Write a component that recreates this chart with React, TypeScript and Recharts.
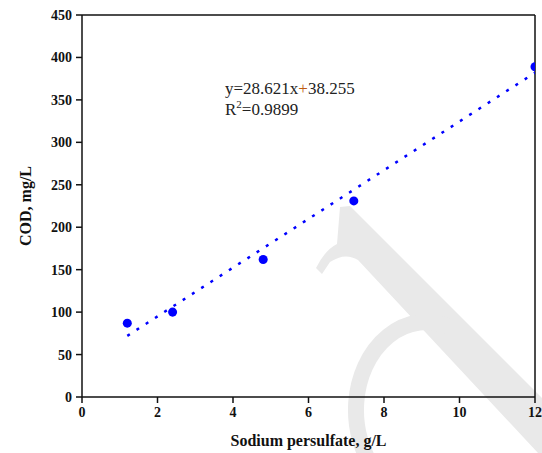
import {
  ComposedChart,
  Line,
  ReferenceLine,
  Scatter,
  XAxis,
  YAxis,
} from 'recharts';

const persulfate = [1.2, 2.4, 4.8, 7.2, 12];
const cod = [87, 100, 162, 231, 389];
const fitX = [1.2, 12];
const fitY = [72, 382];
const xTicks = [0, 2, 4, 6, 8, 10, 12];
const yTicks = [0, 50, 100, 150, 200, 250, 300, 350, 400, 450];

const points = persulfate.map((x, i) => ({ x, y: cod[i] }));
const fitLine = fitX.map((x, i) => ({ x, y: fitY[i] }));

const SERIF = '"Liberation Serif", "Times New Roman", serif';
const BLUE = '#0000ff';

const tickStyle = { fontSize: 14, fontWeight: 700, fill: '#111', fontFamily: SERIF };

// faint grey watermark behind the plot
function Watermark() {
  return (
    <svg width={542} height={453} style={{ position: 'absolute', left: 0, top: 0 }}>
      <path
        d="M340 207 L350 206 L542 398 L542 453 L538 453 L358 260 Q345 252 330 262 L322 274 L316 268 Q325 250 337 244 Z"
        fill="#e9e9e9"
      />
      <path d="M449 327 A70 88 0 1 0 437 497" fill="none" stroke="#e9e9e9" strokeWidth={16} />
    </svg>
  );
}

export default function App() {
  return (
    <div style={{ position: 'absolute', left: 0, top: 0, width: 542, height: 453, background: '#fff' }}>
      <Watermark />
      <div style={{ position: 'absolute', left: 0, top: 0 }}>
        <ComposedChart width={542} height={453} margin={{ top: 15, right: 7, bottom: 0, left: 0 }}>
          <XAxis
            dataKey="x"
            type="number"
            domain={[0, 12]}
            ticks={xTicks}
            height={56}
            tick={tickStyle}
            tickSize={6}
            tickMargin={4}
            stroke="#111"
            strokeWidth={1.5}
            allowDataOverflow
            label={{
              value: 'Sodium persulfate, g/L',
              position: 'insideBottom',
              offset: 7,
              style: { fontSize: 16, fontWeight: 700, fill: '#111', fontFamily: SERIF },
            }}
          />
          <YAxis
            dataKey="y"
            type="number"
            domain={[0, 450]}
            ticks={yTicks}
            width={82}
            tick={tickStyle}
            tickSize={6}
            tickMargin={4}
            stroke="#111"
            strokeWidth={1.5}
            allowDataOverflow
            label={{
              value: 'COD, mg/L',
              angle: -90,
              position: 'insideLeft',
              offset: 25,
              style: { textAnchor: 'middle', fontSize: 16, fontWeight: 700, fill: '#111', fontFamily: SERIF },
            }}
          />
          <ReferenceLine y={450} stroke="#111" strokeWidth={1.5} ifOverflow="visible" />
          <ReferenceLine x={12} stroke="#111" strokeWidth={1.5} ifOverflow="visible" />
          <Line
            data={fitLine}
            dataKey="y"
            type="linear"
            stroke={BLUE}
            strokeWidth={2.5}
            strokeDasharray="3 8"
            dot={false}
            activeDot={false}
            isAnimationActive={false}
          />
          <Scatter data={points} dataKey="y" fill={BLUE} shape="circle" isAnimationActive={false} />
        </ComposedChart>
      </div>
      <div
        style={{
          position: 'absolute',
          left: 225,
          top: 78,
          fontFamily: SERIF,
          fontSize: 17,
          lineHeight: '21px',
          color: '#222',
        }}
      >
        <div>
          y=28.621x<span style={{ color: '#c05a10' }}>+</span>38.255
        </div>
        <div>
          R<sup style={{ fontSize: 11, lineHeight: 0 }}>2</sup>=0.9899
        </div>
      </div>
    </div>
  );
}
